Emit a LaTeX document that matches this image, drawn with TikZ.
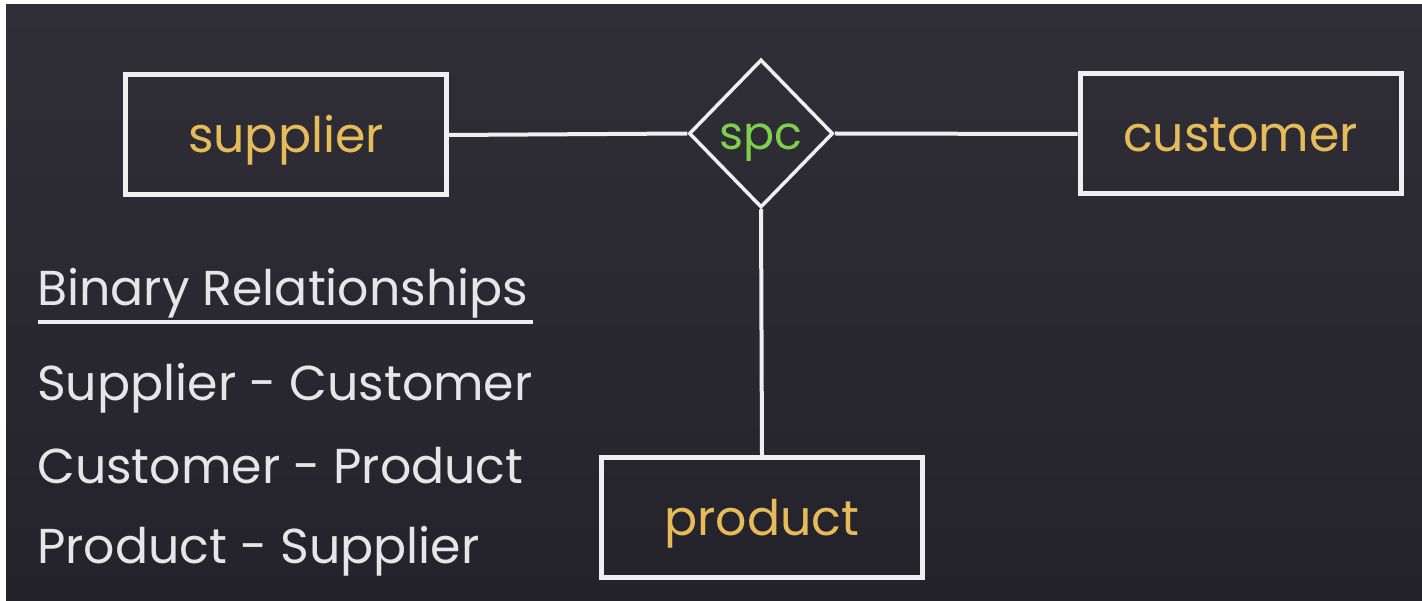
\documentclass[tikz,border=0pt]{standalone}
\usepackage{fontspec}
\setmainfont{Poppins}
\usetikzlibrary{shapes.geometric}
\definecolor{bgtop}{HTML}{302F38}
\definecolor{bgbot}{HTML}{24232C}
\definecolor{entitytext}{HTML}{E6BB5A}
\definecolor{reltext}{HTML}{7FCF4C}
\definecolor{edge}{HTML}{EFEFEF}
\definecolor{note}{HTML}{E6E6E8}
\tikzset{
  entity/.style={draw=edge, line width=5pt, rectangle, minimum width=321pt,
    minimum height=120pt, inner sep=0pt, text height=36pt, text depth=0pt,
    text=entitytext, font=\fontsize{49}{58}\selectfont},
  relation/.style={draw=edge, line width=3.5pt, diamond, minimum width=144pt,
    minimum height=148pt, inner sep=0pt, text height=33pt, text depth=0pt,
    text=reltext, font=\fontsize{46}{55}\selectfont},
  link/.style={draw=edge, line width=4pt},
  notetext/.style={anchor=base west, inner sep=0pt, text=note, font=\fontsize{49}{58}\selectfont}
}
\begin{document}
\begin{tikzpicture}[x=1pt,y=-1pt]
  % background with soft vertical shading and the light frame strips
  \shade[top color=bgtop, bottom color=bgbot] (0,0) rectangle (1422,601);
  \fill[white] (0,0) rectangle (6,601);
  \fill[white] (0,0) rectangle (1422,4);
  \useasboundingbox (0,0) rectangle (1422,601);

  % entities and the relationship
  \node[entity] (supplier) at (286,135) {supplier};
  \node[entity] (customer) at (1240.5,134) {customer};
  \node[entity] (product) at (762,517.5) {product};
  \node[relation] (spc) at (761,133.5) {spc};

  \draw[link] (supplier.east) -- (spc.west);
  \draw[link] (spc.east) -- (customer.west);
  \draw[link] (spc.south) -- (product.north);

  % list of binary relationships
  \node[notetext] (title) at (37,306) {Binary Relationships};
  \coordinate (ulstart) at (38,322);
  \coordinate (ulend) at (533,322);
  \draw[link, line width=4.5pt] (ulstart) -- (ulend);
  \node[notetext] (sc) at (37,401) {Supplier - Customer};
  \node[notetext] (cp) at (37,483) {Customer - Product};
  \node[notetext] (ps) at (37,563) {Product - Supplier};
\end{tikzpicture}
\end{document}
